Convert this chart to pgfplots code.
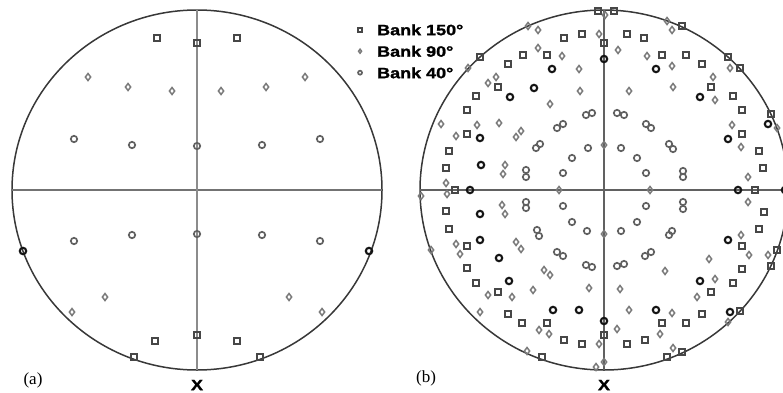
\documentclass[border=0pt]{standalone}
\usepackage{fontspec}
\setmainfont{Liberation Serif}
\setsansfont{Liberation Sans}
\newfontfamily\heavyfont{Liberation Sans Bold}[FakeStretch=1.2, FakeBold=1.4]
\usepackage{pgfplots}
\pgfplotsset{compat=1.18}

% Pole figures: stereographic positions of the reflections, one unit = one point
\pgfplotsset{
  pole/.style={
    scale only axis, width=370pt, height=362pt,
    xmin=-185, xmax=185, ymin=-181, ymax=181,
    axis lines=none, clip=false, anchor=center,
  },
  b150/.style={only marks, mark=square, mark size=3.4pt, color=black!72, line width=1.9pt,
    mark options={line width=1.9pt, rounded corners=0.6pt}},
  b90/.style={only marks, mark=diamond, mark size=3.5pt, color=black!52, line width=1.5pt,
    mark options={line width=1.5pt}},
  b40/.style={only marks, mark=o, mark size=3.2pt, color=black!62, line width=1.7pt,
    mark options={line width=1.7pt}},
  b40dark/.style={only marks, mark=o, mark size=3.2pt, color=black!92, line width=2.1pt,
    mark options={line width=2.1pt}},
}

\begin{document}
\begin{tikzpicture}
\useasboundingbox (0,0) rectangle (783pt,392pt);
\clip (0,0) rectangle (783pt,392pt);

% ---------------- (a) ----------------
\begin{axis}[pole, at={(197pt,202pt)}]
  \draw[line width=1.5pt, black!78] (axis cs:0,0) ellipse [x radius=185, y radius=180];
  \draw[line width=1.4pt, black!55] (axis cs:-185,0) -- (axis cs:185,0);
  \draw[line width=1.6pt, black!45] (axis cs:0,-180) -- (axis cs:0,180);
  \addplot[b150] coordinates {
    (-40,152) (0,147) (40,152) (-42,-151) (0,-145) (40,-151) (-63,-167) (63,-167)
  };
  \addplot[b90] coordinates {
    (-109,113) (-69,103) (-25,99) (24,99) (69,103) (108,113)
    (-92,-107) (92,-107) (-125,-122) (125,-122)
  };
  \addplot[b40] coordinates {
    (-123,51) (-65,45) (0,44) (65,45) (123,51)
    (-123,-51) (-65,-45) (0,-44) (65,-45) (123,-51)
  };
  \addplot[b40dark] coordinates {(-174,-61) (172,-61)};
  \node[font=\fontsize{17}{20}\selectfont] at (axis cs:-164,-190) {(a)};
  \node[font=\heavyfont\fontsize{15}{18}\selectfont] at (axis cs:0,-195) {X};
\end{axis}

% ---------------- (b) ----------------
\begin{axis}[pole, at={(604pt,202pt)},
  legend style={at={(axis cs:-247,166)}, anchor=north west, draw=none, fill=none,
    font=\heavyfont\fontsize{15}{17}\selectfont, row sep=10.5pt, inner sep=0pt,
    nodes={inner sep=0pt, text height=11pt, text depth=0pt}},
  legend cell align=left,
  legend image code/.code={\path[draw=none] (0,0) -- (0.7cm,0);
    \draw[#1, only marks, mark size=2pt, line width=1pt] plot coordinates {(0.1cm,0cm)};},
]
  \draw[line width=1.5pt, black!78] (axis cs:0,0) ellipse [x radius=184, y radius=180];
  \draw[line width=1.4pt, black!62] (axis cs:-184,0) -- (axis cs:184,0);
  \draw[line width=1.4pt, black!62] (axis cs:0,-180) -- (axis cs:0,180);
  \addplot[b150] coordinates {
    (-6,179) (10,179)
    (-40,152) (-22,156) (0,147) (-81,135) (-57,135) (-96,126) (-106,103) (-128,94)
    (-137,80) (-137,56) (-155,39) (-158,22) (-149,0) (-124,133)
    (23,156) (40,152) (58,135) (82,135) (98,126) (107,103) (129,94) (138,80) (138,56)
    (155,39) (159,22) (151,0) (78,164) (124,133) (136,122) (167,76)
    (-158,-21) (-155,-39) (-137,-56) (-137,-78) (-128,-93) (-106,-102) (-96,-124)
    (-82,-133) (-57,-133) (-40,-150) (-22,-154) (0,-145) (-62,-167)
    (160,-22) (155,-39) (138,-56) (138,-79) (129,-93) (107,-102) (98,-124) (82,-133)
    (58,-133) (41,-150) (23,-154) (78,-162) (63,-167) (136,-121) (167,-76) (173,-60)
  };
  \addlegendentry{Bank 150\textdegree}
  \addplot[b90] coordinates {
    (1,175)
    (-76,164) (-66,160) (-5,156) (-66,142) (-42,134) (-25,121) (-136,122) (-108,113)
    (-116,107) (-24,99) (-54,86) (-163,66) (-127,65) (-105,67) (-83,59) (-88,53)
    (-148,54) (0,45) (-99,25) (-101,16) (-158,7) (-45,0)
    (14,140) (43,134) (68,124) (63,169) (68,160) (69,103) (25,99) (109,113) (111,90)
    (126,122) (128,65) (137,43) (144,13) (173,62) (46,0)
    (-157,-4) (-183,-6) (-102,-15) (-99,-24) (0,-44) (-148,-54) (-144,-64) (-88,-52)
    (-83,-59) (-173,-60) (-60,-80) (-54,-85) (-71,-100) (-116,-105) (-92,-107)
    (-15,-98) (-124,-122) (-65,-140) (-55,-144) (-5,-154) (-77,-161) (-8,-177) (0,-172)
    (144,-12) (137,-45) (145,-65) (164,-65) (105,-69) (61,-81) (111,-89) (93,-107)
    (16,-99) (25,-120) (68,-123) (124,-132) (13,-139) (56,-144) (69,-158)
  };
  \addlegendentry{Bank 90\textdegree}
  \addplot[b40] coordinates {
    (-18,75) (-12,77) (-47,62) (-41,66) (-68,42) (-64,46) (-16,42) (-32,32) (-41,17)
    (-78,20) (-78,13)
    (13,77) (20,75) (42,66) (47,62) (65,46) (69,41) (17,42) (33,32) (42,17) (79,19) (79,13)
    (-78,-12) (-78,-18) (-41,-16) (-32,-32) (-17,-41) (-67,-40) (-65,-46) (-47,-62)
    (-41,-66) (-18,-75) (-12,-77)
    (79,-12) (79,-19) (42,-16) (33,-32) (17,-41) (68,-41) (65,-45) (47,-62) (41,-66)
    (20,-74) (13,-76)
  };
  \addlegendentry{Bank 40\textdegree}
  \addplot[b40dark, forget plot] coordinates {
    (-52,121) (-70,102) (-94,93) (-124,52) (-123,25) (-134,0) (0,131) (52,121) (96,93)
    (124,51) (164,66) (134,0) (181,0)
    (-124,-24) (-124,-50) (-105,-68) (-95,-91) (-51,-120) (-25,-120) (0,-131)
    (124,-50) (96,-91) (52,-120) (126,-122)
  };
  \node[font=\fontsize{17}{20}\selectfont] at (axis cs:-178,-188) {(b)};
  \node[font=\heavyfont\fontsize{15}{18}\selectfont] at (axis cs:0,-195) {X};
\end{axis}
\end{tikzpicture}
\end{document}
